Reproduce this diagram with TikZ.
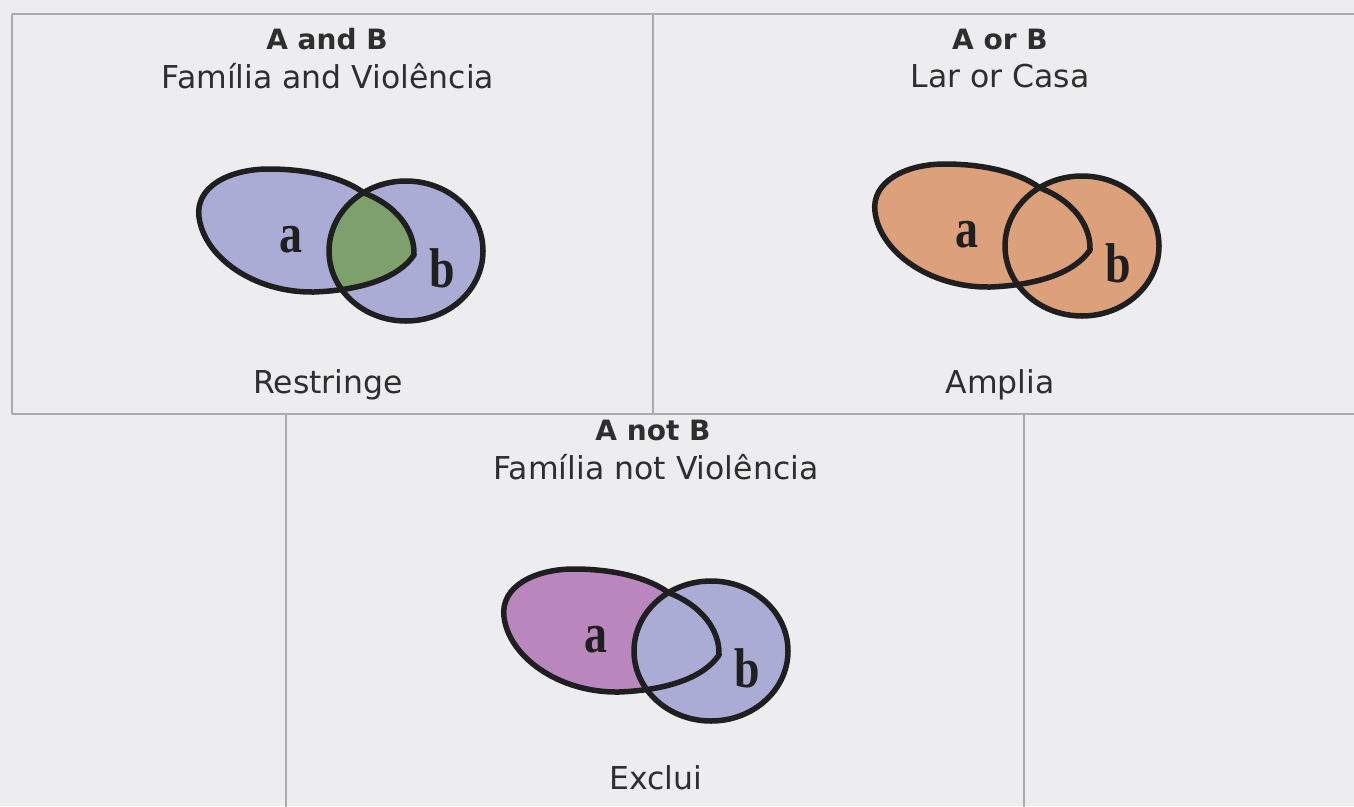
\documentclass[tikz,border=0pt]{standalone}
\usepackage{fontspec}
\setmainfont{DejaVu Sans}
\newfontfamily\vennletter{Liberation Serif}
\definecolor{bgc}{HTML}{EDEDEF}
\definecolor{gridc}{HTML}{ABABAF}
\definecolor{txtc}{HTML}{2E2E2E}
\definecolor{vblue}{HTML}{AAACD6}
\definecolor{vgreen}{HTML}{7DA06C}
\definecolor{vorange}{HTML}{DCA07A}
\definecolor{vpurple}{HTML}{B987BE}
\definecolor{outc}{HTML}{1F1F1F}
\tikzset{
  gridline/.style={draw=gridc, line width=2pt},
  titletext/.style={text=txtc, font=\bfseries\fontsize{28}{30}\selectfont, inner sep=0pt},
  bodytext/.style={text=txtc, font=\fontsize{31.5}{33}\selectfont, inner sep=0pt},
  outline/.style={draw=outc, line width=5.5pt, line join=round},
  setletter/.style={text=outc, font=\vennletter\bfseries\fontsize{56}{56}\selectfont, inner sep=0pt, xscale=0.82}
}
\def\apath{(1040,188) .. controls (1072,200) and (1091,225) .. (1090,250) .. controls (1075,272) and (1040,285) .. (990,287) .. controls (930,288) and (880,252) .. (875,212) .. controls (871,182) and (905,164) .. (945,164) .. controls (985,164) and (1020,173) .. (1040,188) -- cycle}
\def\bpath{(1082,246) ellipse [x radius=77pt, y radius=70pt]}
\begin{document}
\begin{tikzpicture}[x=1pt,y=-1pt]
\fill[bgc] (0,0) rectangle (1354,806);
\useasboundingbox (0,0) rectangle (1354,806);
% table lines
\draw[gridline] (12,14) -- (1356,14);
\draw[gridline] (12,414) -- (1356,414);
\draw[gridline] (12,14) -- (12,414);
\draw[gridline] (653,14) -- (653,414);
\draw[gridline] (286,414) -- (286,808);
\draw[gridline] (1024,414) -- (1024,808);
% texts
\node[titletext] (t1) at (327,39) {A and B};
\node[bodytext] (s1) at (328,76) {Família and Violência};
\node[bodytext] (r1) at (328,385) {Restringe};
\node[titletext] (t2) at (1000,39) {A or B};
\node[bodytext] (s2) at (1000,76) {Lar or Casa};
\node[bodytext] (r2) at (1000,385) {Amplia};
\node[titletext] (t3) at (653,430) {A not B};
\node[bodytext] (s3) at (656,467) {Família not Violência};
\node[bodytext] (r3) at (656,778) {Exclui};
% Venn: A and B
\begin{scope}[shift={(-676,5)}]
  \fill[vblue] \apath;
  \fill[vblue] \bpath;
  \begin{scope}
    \clip \apath;
    \fill[vgreen] \bpath;
  \end{scope}
  \draw[outline] \bpath;
  \draw[outline] \apath;
  \node[setletter] (la1) at (967,235) {a};
  \node[setletter] (lb1) at (1118,263) {b};
\end{scope}
% Venn: A or B
\begin{scope}
  \fill[vorange] \apath;
  \fill[vorange] \bpath;
  \draw[outline] \bpath;
  \draw[outline] \apath;
  \node[setletter] (la2) at (967,235) {a};
  \node[setletter] (lb2) at (1118,263) {b};
\end{scope}
% Venn: A not B
\begin{scope}[shift={(-371,405)}]
  \fill[vpurple] \apath;
  \fill[vblue] \bpath;
  \draw[outline] \bpath;
  \draw[outline] \apath;
  \node[setletter] (la3) at (967,235) {a};
  \node[setletter] (lb3) at (1118,263) {b};
\end{scope}
\end{tikzpicture}
\end{document}
